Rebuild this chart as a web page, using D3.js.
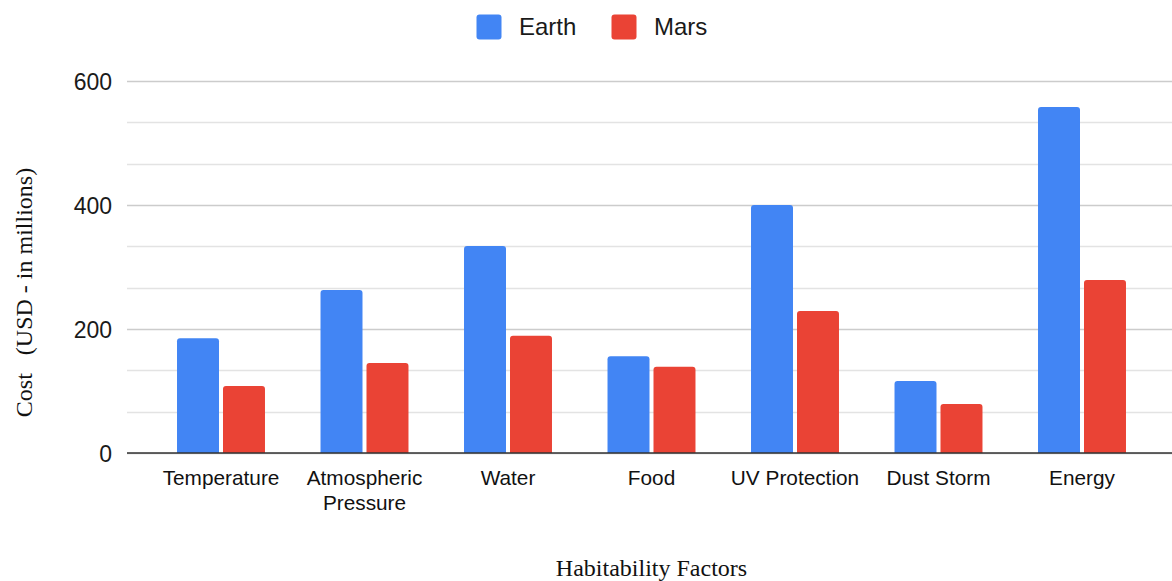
<!DOCTYPE html>
<html>
<head>
<meta charset="utf-8">
<script src="https://cdn.jsdelivr.net/npm/d3@7"></script>
<style>
  html, body { margin: 0; padding: 0; background: #fff; }
  svg { display: block; }
</style>
</head>
<body>
<svg id="chart" width="1172" height="581"></svg>
<script>
const categories = ["Temperature", "Atmospheric Pressure", "Water", "Food", "UV Protection", "Dust Storm", "Energy"];
const categoryLines = [["Temperature"], ["Atmospheric", "Pressure"], ["Water"], ["Food"], ["UV Protection"], ["Dust Storm"], ["Energy"]];
const seriesNames = ["Earth", "Mars"];
const earthValues = [185, 263, 334, 156, 400, 116, 558];
const marsValues = [108, 145, 189, 139, 229, 79, 279];
const yTicks = [0, 200, 400, 600];
const yGridValues = [0, 200/3, 400/3, 200, 800/3, 1000/3, 400, 1400/3, 1600/3, 600];
const colors = ["#4285f4", "#ea4335"];
const yTitle = "Cost   (USD - in millions)";
const xTitle = "Habitability Factors";

const svg = d3.select("#chart");
const plotLeft = 127, plotRight = 1172, plotTop = 81, plotBottom = 453;

const y = d3.scaleLinear().domain([0, 600]).range([plotBottom, plotTop]);
const x0 = d3.scaleBand().domain(categories).range([149.25, 1153.75]).paddingInner(0.387).paddingOuter(0.1935);
const x1 = d3.scaleBand().domain(seriesNames).range([0, x0.bandwidth()]).paddingInner(0.087).paddingOuter(0);

// grid
svg.append("g").selectAll("line").data(yGridValues).join("line")
  .attr("x1", plotLeft).attr("x2", plotRight)
  .attr("y1", d => Math.round(y(d)) + 0.5).attr("y2", d => Math.round(y(d)) + 0.5)
  .attr("stroke", d => yTicks.includes(d) ? "#cccccc" : "#e3e3e3")
  .attr("stroke-width", 1.3);

// y axis labels
const yAxis = d3.axisLeft(y).tickValues(yTicks).tickSize(0).tickPadding(0).tickFormat(d3.format("d"));
const yg = svg.append("g").attr("transform", `translate(112,0)`).call(yAxis);
yg.select(".domain").remove();
yg.selectAll("text").attr("font-family", "Arial, 'Liberation Sans', sans-serif").attr("font-size", 23).attr("fill", "#1a1a1a").attr("dy", "0.35em");

// bars
const data = categories.map((c, i) => ({ cat: c, vals: [earthValues[i], marsValues[i]] }));
function topRounded(x, yTop, w, h, r) {
  r = Math.min(r, h, w / 2);
  return `M${x},${yTop + h} L${x},${yTop + r} Q${x},${yTop} ${x + r},${yTop} L${x + w - r},${yTop} Q${x + w},${yTop} ${x + w},${yTop + r} L${x + w},${yTop + h} Z`;
}
const groups = svg.append("g").selectAll("g").data(data).join("g")
  .attr("transform", d => `translate(${x0(d.cat)},0)`);
groups.selectAll("path").data(d => d.vals.map((v, j) => ({ name: seriesNames[j], v, j }))).join("path")
  .attr("d", d => topRounded(x1(d.name), y(d.v), x1.bandwidth(), y(0) - y(d.v), 3))
  .attr("fill", d => colors[d.j]);

// baseline
svg.append("line").attr("x1", plotLeft).attr("x2", plotRight)
  .attr("y1", plotBottom).attr("y2", plotBottom)
  .attr("stroke", "#333").attr("stroke-width", 1.4);

// x category labels
const xl = svg.append("g").selectAll("text").data(categories).join("text")
  .attr("x", d => x0(d) + x0.bandwidth() / 2)
  .attr("y", 484.5)
  .attr("text-anchor", "middle")
  .attr("font-family", "Arial, 'Liberation Sans', sans-serif")
  .attr("font-size", 20.8)
  .attr("fill", "#111");
xl.each(function(d, i) {
  const t = d3.select(this);
  categoryLines[i].forEach((line, k) => {
    t.append("tspan").attr("x", x0(d) + x0.bandwidth() / 2).attr("dy", k === 0 ? 0 : 25.7).text(line);
  });
});

// axis titles
svg.append("text").attr("x", (plotLeft + plotRight) / 2 + 2).attr("y", 575.5)
  .attr("text-anchor", "middle")
  .attr("font-family", "'Liberation Serif', 'Times New Roman', serif")
  .attr("font-size", 24).attr("fill", "#111").text(xTitle);

svg.append("text")
  .attr("transform", "translate(32,292.5) rotate(-90)")
  .attr("text-anchor", "middle")
  .attr("font-family", "'Liberation Serif', 'Times New Roman', serif")
  .attr("font-size", 24).attr("fill", "#111")
  .style("white-space", "pre")
  .attr("xml:space", "preserve")
  .text(yTitle);

// legend
const legendItems = [{ name: "Earth", x: 476.5 }, { name: "Mars", x: 611.5 }];
const lg = svg.append("g").selectAll("g").data(legendItems).join("g")
  .attr("transform", d => `translate(${d.x},14.5)`);
lg.append("rect").attr("width", 25).attr("height", 25).attr("rx", 3)
  .attr("fill", (d, i) => colors[i]);
lg.append("text").attr("x", 42.5).attr("y", 12.5).attr("dy", "0.35em")
  .attr("font-family", "Arial, 'Liberation Sans', sans-serif")
  .attr("font-size", 24).attr("fill", "#1a1a1a").text(d => d.name);
</script>
</body>
</html>
